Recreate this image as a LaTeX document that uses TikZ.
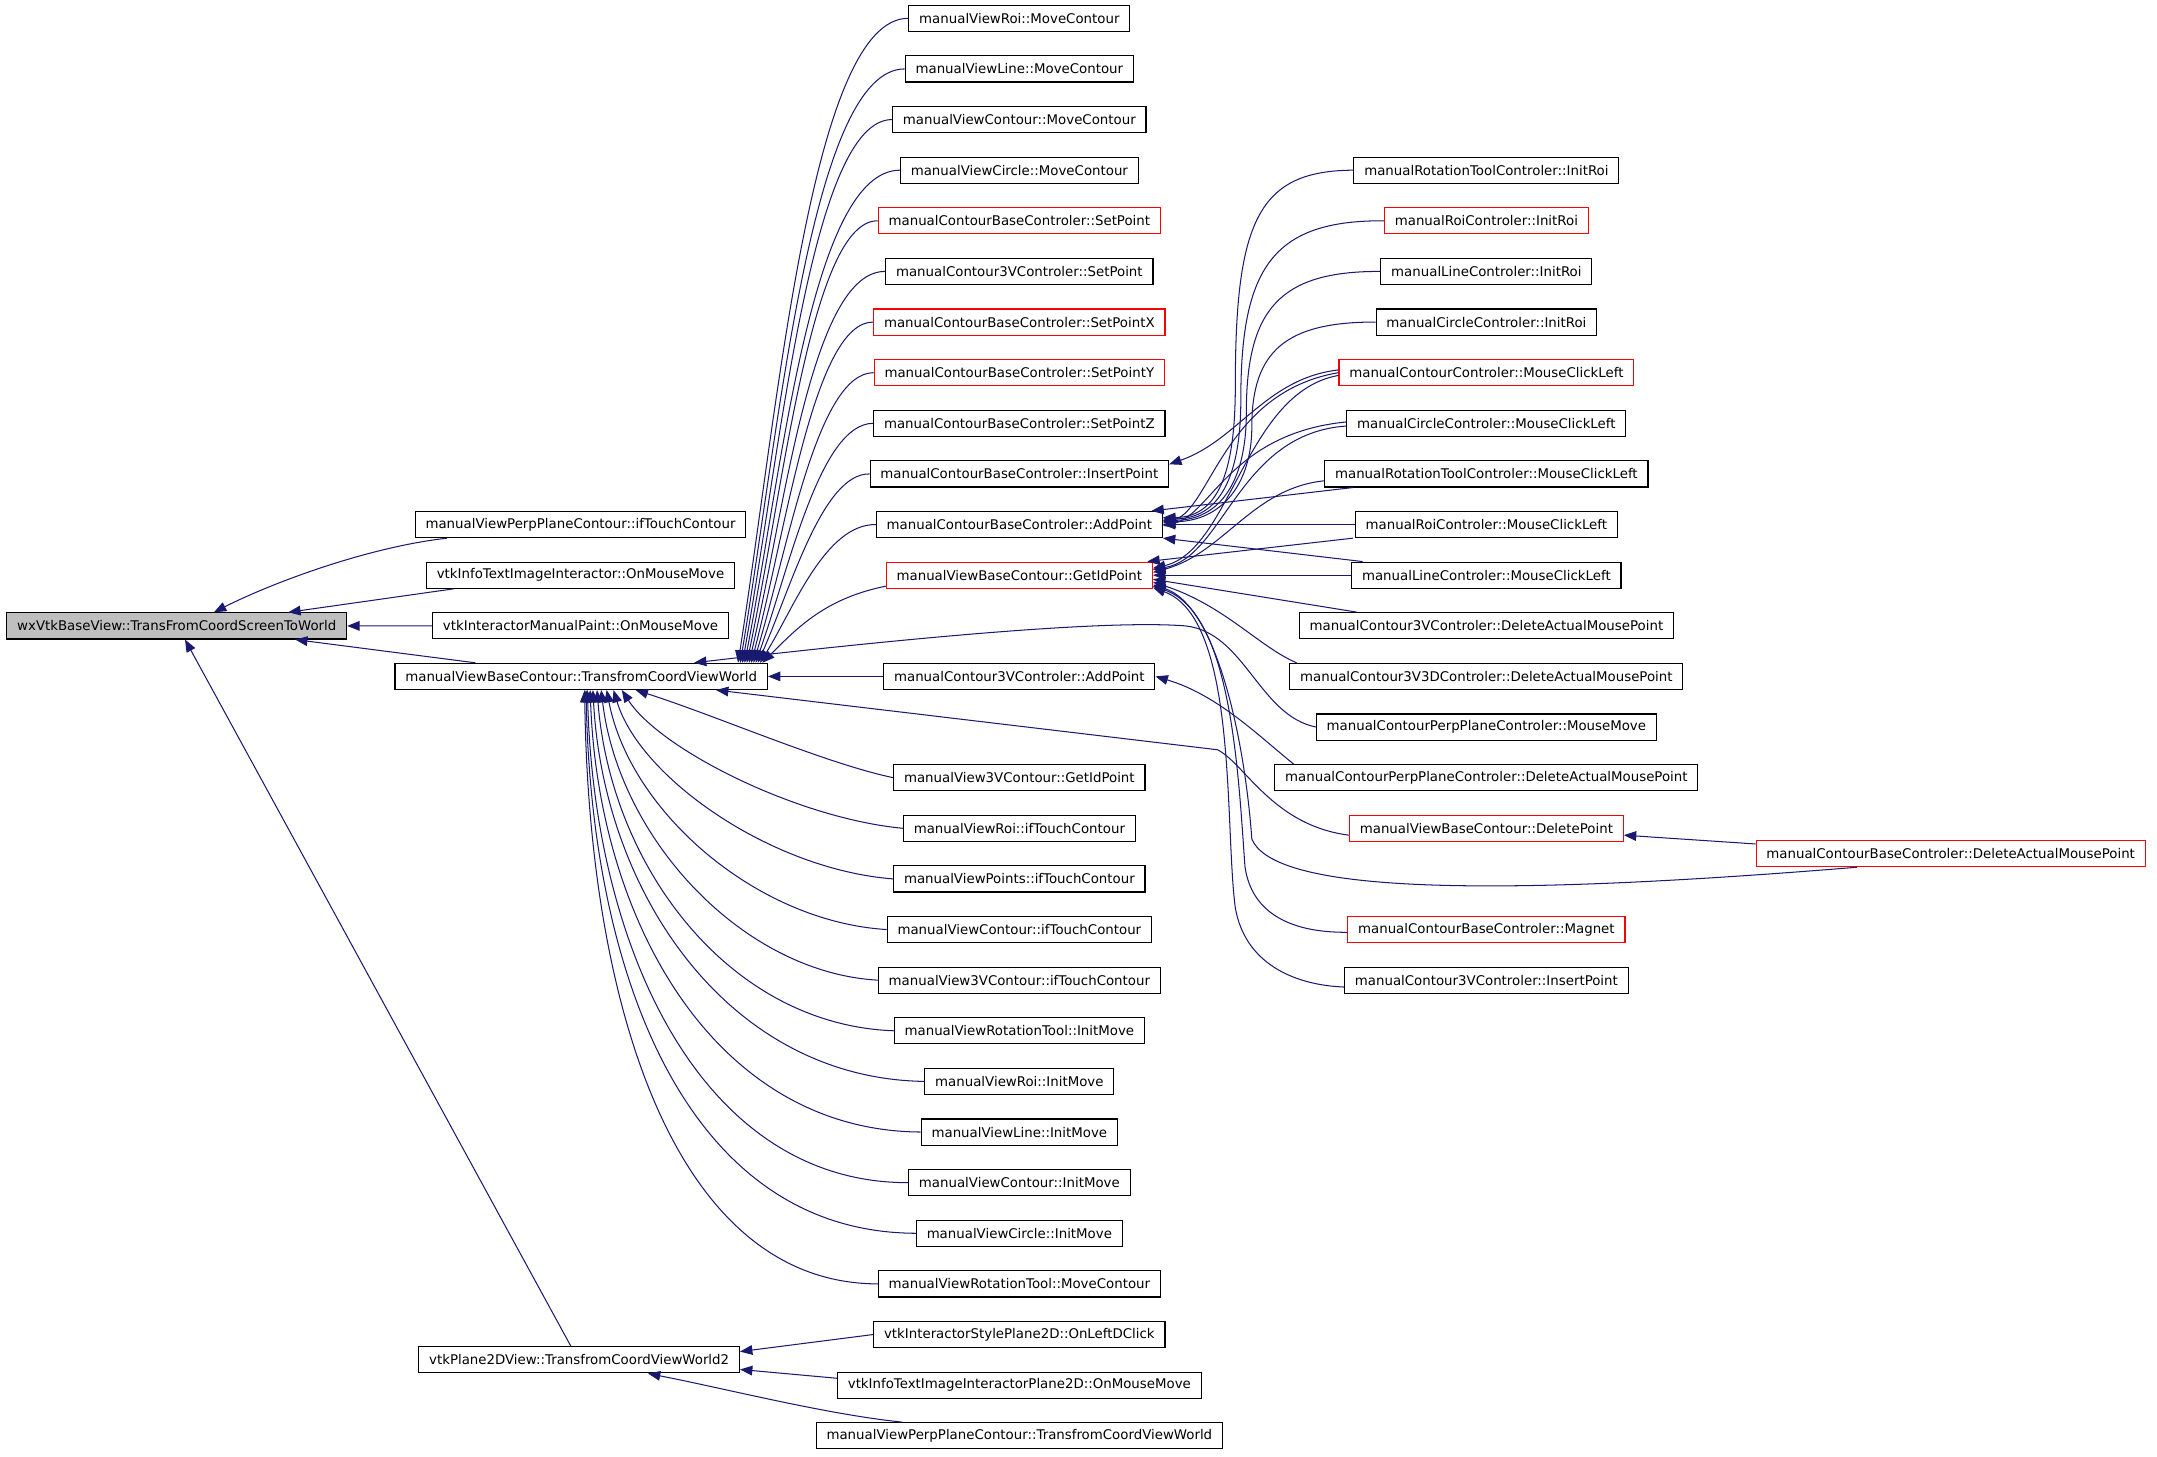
\documentclass[tikz,border=0pt]{standalone}
\usepackage{fontspec}
\setmainfont{DejaVu Sans}
\usetikzlibrary{arrows.meta}
\definecolor{edgeblue}{RGB}{25,25,112}
\definecolor{rootgray}{RGB}{191,191,191}
\tikzset{
  fn/.style={draw=black, line width=0.8pt, fill=white, inner xsep=7.5pt, inner ysep=0pt, minimum height=19pt, font=\fontsize{9.7}{11}\selectfont},
  hot/.style={fn, draw=red},
  rootfn/.style={fn, fill=rootgray},
  call/.style={draw=edgeblue, line width=0.75pt, >={Triangle[length=9pt,width=7pt]}, <-},
}
\begin{document}
\begin{tikzpicture}[x=1pt,y=-1pt]
\useasboundingbox (0,0) rectangle (1568,1058.5);

\node[rootfn] (root) at (128.5,455) {wxVtkBaseView::TransFromCoordScreenToWorld};
\node[fn] (plane2d) at (421,988.5) {vtkPlane2DView::TransfromCoordViewWorld2};
\node[fn] (ppTouch) at (422,381.3) {manualViewPerpPlaneContour::ifTouchContour};
\node[fn] (infoMove) at (422,418.1) {vtkInfoTextImageInteractor::OnMouseMove};
\node[fn] (paintMove) at (422,454.9) {vtkInteractorManualPaint::OnMouseMove};
\node[fn] (tcvw) at (422.5,491.7) {manualViewBaseContour::TransfromCoordViewWorld};

\node[fn] (roiMove) at (741,13.3) {manualViewRoi::MoveContour};
\node[fn] (lineMove) at (741,50.1) {manualViewLine::MoveContour};
\node[fn] (contMove) at (741,86.9) {manualViewContour::MoveContour};
\node[fn] (circMove) at (741,123.7) {manualViewCircle::MoveContour};
\node[hot] (baseSet) at (741,160.5) {manualContourBaseControler::SetPoint};
\node[fn] (c3vSet) at (741,197.3) {manualContour3VControler::SetPoint};
\node[hot] (baseSetX) at (741,234.1) {manualContourBaseControler::SetPointX};
\node[hot] (baseSetY) at (741,270.9) {manualContourBaseControler::SetPointY};
\node[fn] (baseSetZ) at (741,307.7) {manualContourBaseControler::SetPointZ};
\node[fn] (baseIns) at (741,344.5) {manualContourBaseControler::InsertPoint};
\node[fn] (baseAdd) at (741,381.3) {manualContourBaseControler::AddPoint};
\node[hot] (viewGetId) at (741,418.1) {manualViewBaseContour::GetIdPoint};
\node[fn] (c3vAdd) at (741,491.7) {manualContour3VControler::AddPoint};
\node[fn] (v3vGetId) at (741,565.3) {manualView3VContour::GetIdPoint};
\node[fn] (roiTouch) at (741,602.1) {manualViewRoi::ifTouchContour};
\node[fn] (pointsTouch) at (741,638.9) {manualViewPoints::ifTouchContour};
\node[fn] (contTouch) at (741,675.7) {manualViewContour::ifTouchContour};
\node[fn] (v3vTouch) at (741,712.5) {manualView3VContour::ifTouchContour};
\node[fn] (rotInitMove) at (741,749.3) {manualViewRotationTool::InitMove};
\node[fn] (roiInitMove) at (741,786.1) {manualViewRoi::InitMove};
\node[fn] (lineInitMove) at (741,822.9) {manualViewLine::InitMove};
\node[fn] (contInitMove) at (741,859.7) {manualViewContour::InitMove};
\node[fn] (circInitMove) at (741,896.5) {manualViewCircle::InitMove};
\node[fn] (rotMove) at (741,933.3) {manualViewRotationTool::MoveContour};
\node[fn] (dclick) at (741,970.1) {vtkInteractorStylePlane2D::OnLeftDClick};
\node[fn] (infoPlaneMove) at (741,1006.9) {vtkInfoTextImageInteractorPlane2D::OnMouseMove};
\node[fn] (ppTcvw) at (741,1043.7) {manualViewPerpPlaneContour::TransfromCoordViewWorld};

\node[fn] (rotInit) at (1080.5,123.7) {manualRotationToolControler::InitRoi};
\node[hot] (roiInit) at (1080.5,160.5) {manualRoiControler::InitRoi};
\node[fn] (lineInit) at (1080.5,197.3) {manualLineControler::InitRoi};
\node[fn] (circInit) at (1080.5,234.1) {manualCircleControler::InitRoi};
\node[hot] (contClick) at (1080.5,270.9) {manualContourControler::MouseClickLeft};
\node[fn] (circClick) at (1080.5,307.7) {manualCircleControler::MouseClickLeft};
\node[fn] (rotClick) at (1080.5,344.5) {manualRotationToolControler::MouseClickLeft};
\node[fn] (roiClick) at (1080.5,381.3) {manualRoiControler::MouseClickLeft};
\node[fn] (lineClick) at (1080.5,418.1) {manualLineControler::MouseClickLeft};
\node[fn] (c3vDel) at (1080.5,454.9) {manualContour3VControler::DeleteActualMousePoint};
\node[fn] (c3v3dDel) at (1080.5,491.7) {manualContour3V3DControler::DeleteActualMousePoint};
\node[fn] (ppMouseMove) at (1080.5,528.5) {manualContourPerpPlaneControler::MouseMove};
\node[fn] (ppDel) at (1080.5,565.3) {manualContourPerpPlaneControler::DeleteActualMousePoint};
\node[hot] (viewDelPt) at (1080.5,602.1) {manualViewBaseContour::DeletePoint};
\node[hot] (baseMagnet) at (1080.5,675.7) {manualContourBaseControler::Magnet};
\node[fn] (c3vIns) at (1080.5,712.5) {manualContour3VControler::InsertPoint};

\node[hot] (baseDel) at (1418,620.5) {manualContourBaseControler::DeleteActualMousePoint};

\draw[call] ([xshift=27pt]root.north) .. controls (195,425) and (265,398) .. ([xshift=-97pt]ppTouch.south);
\draw[call] ([xshift=81pt]root.north) -- ([xshift=-92pt]infoMove.south);
\draw[call] (root.east) -- (paintMove.west);
\draw[call] ([xshift=86pt]root.south) -- ([xshift=-77pt]tcvw.north);
\draw[call] ([xshift=6pt]root.south) -- ([xshift=-6pt]plane2d.north);

\draw[call] ([yshift=6pt]plane2d.east) -- (dclick.west);
\draw[call] ([yshift=-7pt]plane2d.east) -- ([yshift=5pt]infoPlaneMove.west);
\draw[call] ([xshift=50pt]plane2d.south) .. controls (530,1010) and (600,1028) .. ([xshift=-85pt]ppTcvw.north);

\draw[call] ([xshift=114pt]tcvw.north) .. controls (566,294) and (590,13) .. (roiMove.west);
\draw[call] ([xshift=115.6pt]tcvw.north) .. controls (567,309) and (590,50) .. (lineMove.west);
\draw[call] ([xshift=117.2pt]tcvw.north) .. controls (568,324) and (590,87) .. (contMove.west);
\draw[call] ([xshift=118.8pt]tcvw.north) .. controls (569,339) and (590,124) .. (circMove.west);
\draw[call] ([xshift=120.4pt]tcvw.north) .. controls (570,353) and (590,160) .. (baseSet.west);
\draw[call] ([xshift=122pt]tcvw.north) .. controls (571,368) and (590,197) .. (c3vSet.west);
\draw[call] ([xshift=123.6pt]tcvw.north) .. controls (572,383) and (592,234) .. (baseSetX.west);
\draw[call] ([xshift=125.2pt]tcvw.north) .. controls (573,398) and (594,271) .. (baseSetY.west);
\draw[call] ([xshift=126.8pt]tcvw.north) .. controls (574,412) and (596,308) .. (baseSetZ.west);
\draw[call] ([xshift=128.4pt]tcvw.north) .. controls (575,427) and (598,344) .. (baseIns.west);
\draw[call] ([xshift=130pt]tcvw.north) .. controls (577,442) and (600,381) .. (baseAdd.west);
\draw[call] ([xshift=131.6pt]tcvw.north) .. controls (580,456) and (600,435) .. ([yshift=-8pt]viewGetId.west);
\draw[call] ([xshift=82pt]tcvw.north) .. controls (640,466) and (800,450) .. (862,455) .. controls (905,460) and (915,520) .. (ppMouseMove.west);
\draw[call] (tcvw.east) -- (c3vAdd.west);
\draw[call] ([xshift=98pt]tcvw.south) -- (885,545) .. controls (905,555) and (925,600) .. ([yshift=-5pt]viewDelPt.west);

\draw[call] ([xshift=39.5pt]tcvw.south) .. controls (520,520) and (600,555) .. (v3vGetId.west);
\draw[call] ([xshift=29.5pt]tcvw.south) .. controls (480,545) and (580,595) .. (roiTouch.west);
\draw[call] ([xshift=23.5pt]tcvw.south) .. controls (465,565) and (560,632) .. (pointsTouch.west);
\draw[call] ([xshift=18.5pt]tcvw.south) .. controls (458,590) and (550,670) .. (contTouch.west);
\draw[call] ([xshift=14.5pt]tcvw.south) .. controls (450,610) and (540,707) .. (v3vTouch.west);
\draw[call] ([xshift=11.5pt]tcvw.south) .. controls (444,630) and (530,745) .. (rotInitMove.west);
\draw[call] ([xshift=8.5pt]tcvw.south) .. controls (439,650) and (530,784) .. (roiInitMove.west);
\draw[call] ([xshift=6.5pt]tcvw.south) .. controls (435,670) and (520,822) .. (lineInitMove.west);
\draw[call] ([xshift=4.5pt]tcvw.south) .. controls (432,690) and (510,860) .. (contInitMove.west);
\draw[call] ([xshift=3.5pt]tcvw.south) .. controls (430,710) and (500,896) .. (circInitMove.west);
\draw[call] ([xshift=2.5pt]tcvw.south) .. controls (428,730) and (490,933) .. (rotMove.west);

\draw[call] (c3vAdd.east) .. controls (885,505) and (915,535) .. ([xshift=14pt]ppDel.north west);
\draw[call] ([yshift=7pt]baseIns.east) .. controls (900,320) and (920,275) .. ([yshift=2pt]contClick.west);

\draw[call] ([yshift=5pt]baseAdd.east) .. controls (885,376) and (898,345) .. (898,280) .. controls (898,160) and (915,124) .. (rotInit.west);
\draw[call] ([yshift=4pt]baseAdd.east) .. controls (886,377) and (902,348) .. (902,290) .. controls (902,195) and (925,160) .. (roiInit.west);
\draw[call] ([yshift=3pt]baseAdd.east) .. controls (887,378) and (906,350) .. (906,300) .. controls (906,225) and (930,197) .. (lineInit.west);
\draw[call] ([yshift=2pt]baseAdd.east) .. controls (888,379) and (910,352) .. (910,310) .. controls (910,255) and (935,234) .. (circInit.west);
\draw[call] ([yshift=1pt]baseAdd.east) .. controls (880,370) and (890,285) .. (contClick.west);
\draw[call] ([yshift=-1pt]baseAdd.east) .. controls (880,374) and (895,315) .. ([yshift=1pt]circClick.west);
\draw[call] ([xshift=96pt]baseAdd.north) -- ([xshift=-97pt]rotClick.south);
\draw[call] (baseAdd.east) -- (roiClick.west);
\draw[call] (baseAdd.south east) -- ([xshift=-90pt]lineClick.north);

\draw[call] ([yshift=5pt]viewGetId.east) .. controls (895,400) and (905,285) .. ([yshift=-2pt]contClick.west);
\draw[call] ([yshift=4pt]viewGetId.east) .. controls (890,405) and (900,315) .. ([yshift=-2pt]circClick.west);
\draw[call] ([yshift=2pt]viewGetId.east) .. controls (890,402) and (910,355) .. ([yshift=-5pt]rotClick.west);
\draw[call] ([xshift=93pt]viewGetId.north) -- ([xshift=-97pt]roiClick.south);
\draw[call] (viewGetId.east) -- (lineClick.west);
\draw[call] ([yshift=-3pt]viewGetId.east) -- ([xshift=-94pt]c3vDel.north);
\draw[call] ([yshift=-5pt]viewGetId.east) .. controls (890,440) and (915,470) .. ([xshift=-138pt]c3v3dDel.north);
\draw[call] ([yshift=-7pt]viewGetId.east) .. controls (885,440) and (905,540) .. (910,610) .. controls (925,645) and (1050,655) .. ([xshift=-68pt]baseDel.south);
\draw[call] ([yshift=-8pt]viewGetId.east) .. controls (895,445) and (900,560) .. (905,630) .. controls (910,665) and (940,678) .. ([yshift=-2pt]baseMagnet.west);
\draw[call] ([yshift=-9pt]viewGetId.east) .. controls (900,450) and (890,600) .. (898,660) .. controls (905,700) and (940,716) .. ([yshift=-5pt]c3vIns.west);

\draw[call] ([yshift=-5pt]viewDelPt.east) -- ([yshift=7pt]baseDel.west);
\end{tikzpicture}
\end{document}
